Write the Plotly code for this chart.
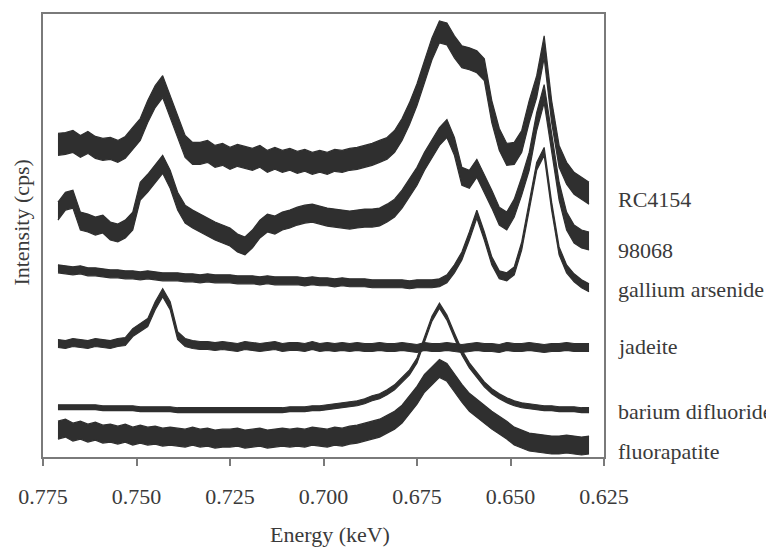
import plotly.graph_objects as go

# Energy grid (keV), shared by all spectra
energy = [0.771, 0.769, 0.767, 0.765, 0.763, 0.761, 0.759, 0.757, 0.755, 0.753,
          0.751, 0.749, 0.747, 0.745, 0.743, 0.741, 0.739, 0.737, 0.735, 0.733,
          0.731, 0.729, 0.727, 0.725, 0.723, 0.721, 0.719, 0.717, 0.715, 0.713,
          0.711, 0.709, 0.707, 0.705, 0.703, 0.701, 0.699, 0.697, 0.695, 0.693,
          0.691, 0.689, 0.687, 0.685, 0.683, 0.681, 0.679, 0.677, 0.675, 0.673,
          0.671, 0.669, 0.667, 0.665, 0.663, 0.661, 0.659, 0.657, 0.655, 0.653,
          0.651, 0.649, 0.647, 0.645, 0.643, 0.641, 0.639, 0.637, 0.635, 0.633,
          0.631, 0.629]

# Offset (stacked) intensities, arbitrary units
rc4154 = [314, 315, 317, 312, 316, 311, 309, 310, 307, 311,
          320, 329, 347, 362, 372, 352, 330, 312, 305, 305,
          307, 302, 304, 300, 303, 301, 299, 302, 297, 300,
          297, 299, 296, 298, 295, 297, 295, 298, 297, 299,
          300, 302, 304, 307, 310, 317, 329, 345, 364, 387,
          410, 427, 425, 412, 402, 400, 397, 389, 347, 319,
          304, 305, 317, 347, 372, 412, 347, 302, 285, 275,
          270, 265]
s98068 = [247, 257, 259, 237, 235, 232, 234, 227, 225, 229,
          237, 267, 275, 285, 294, 279, 257, 244, 239, 235,
          231, 227, 224, 221, 215, 212, 219, 229, 235, 233,
          237, 239, 242, 244, 245, 243, 241, 240, 239, 238,
          239, 240, 240, 241, 245, 250, 259, 270, 282, 297,
          309, 322, 330, 312, 282, 279, 290, 275, 259, 242,
          237, 250, 272, 297, 337, 365, 317, 267, 237, 224,
          219, 217]
gallium_arsenide = [189, 188, 187, 188, 186, 186, 185, 184, 184, 183,
                    183, 182, 183, 182, 181, 181, 181, 180, 180, 179,
                    180, 179, 179, 179, 178, 178, 178, 177, 178, 177,
                    177, 177, 177, 176, 177, 176, 176, 175, 176, 175,
                    175, 175, 174, 174, 174, 174, 174, 173, 174, 174,
                    174, 175, 179, 189, 202, 222, 244, 222, 197, 183,
                    181, 187, 212, 252, 292, 307, 252, 207, 189, 180,
                    174, 170]
jadeite = [114, 113, 115, 114, 113, 115, 114, 113, 115, 116,
           125, 130, 135, 152, 165, 152, 122, 115, 113, 112,
           112, 111, 112, 111, 110, 112, 111, 110, 111, 112,
           110, 111, 111, 110, 112, 110, 111, 110, 111, 110,
           111, 110, 110, 111, 110, 110, 111, 110, 109, 111,
           110, 110, 111, 110, 109, 110, 111, 110, 110, 109,
           111, 110, 110, 111, 110, 109, 110, 110, 111, 110,
           110, 110]
barium_difluoride = [50, 50, 50, 50, 50, 50, 49, 49, 49, 49,
                     49, 48, 48, 48, 48, 48, 47, 47, 47, 47,
                     47, 47, 47, 47, 47, 47, 47, 47, 47, 47,
                     47, 48, 48, 48, 49, 49, 50, 51, 52, 53,
                     54, 56, 59, 61, 65, 70, 77, 85, 97, 117,
                     139, 152, 140, 122, 105, 92, 82, 73, 66, 61,
                     57, 54, 52, 51, 50, 49, 49, 48, 48, 48,
                     47, 47]
fluorapatite = [27, 29, 25, 27, 24, 26, 23, 24, 22, 24,
                21, 23, 21, 22, 20, 21, 20, 19, 21, 19,
                20, 18, 19, 19, 20, 18, 19, 20, 18, 19,
                20, 19, 20, 19, 21, 20, 19, 21, 20, 22,
                23, 25, 27, 29, 33, 37, 43, 52, 62, 74,
                82, 89, 85, 74, 64, 55, 49, 43, 37, 32,
                27, 21, 18, 15, 14, 13, 12, 12, 13, 12,
                11, 12]

series_names = ["RC4154", "98068", "gallium arsenide", "jadeite",
                "barium difluoride", "fluorapatite"]
series_values = [rc4154, s98068, gallium_arsenide, jadeite,
                 barium_difluoride, fluorapatite]
# half-thickness of the noise band
noise_halfwidth = [11, 9, 4, 4, 2.5, 9]
# vertical position of each right-hand label (same units as the data)
label_level = [259, 207, 168, 111, 46, 6]

tick_vals = [0.775, 0.750, 0.725, 0.700, 0.675, 0.650, 0.625]
tick_text = ["0.775", "0.750", "0.725", "0.700", "0.675", "0.650", "0.625"]

INK = "#2f2f2f"
TXT = "#3a3a3a"
FONT = "Liberation Serif"

fig = go.Figure()
for name, vals, w in zip(series_names, series_values, noise_halfwidth):
    upper = [v + w for v in vals]
    lower = [v - w for v in vals]
    fig.add_trace(go.Scatter(x=energy, y=upper, mode="lines",
                             line=dict(color=INK, width=1.2),
                             showlegend=False, hoverinfo="skip"))
    fig.add_trace(go.Scatter(x=energy, y=lower, mode="lines", fill="tonexty",
                             fillcolor=INK, line=dict(color=INK, width=1.2),
                             name=name, showlegend=False))

for name, lvl in zip(series_names, label_level):
    fig.add_annotation(x=1.022, xref="paper", y=lvl, yref="y", text=name,
                       showarrow=False, xanchor="left", yanchor="middle",
                       font=dict(family=FONT, size=22, color=TXT))

fig.add_annotation(x=0.5116, xref="paper", y=-0.176, yref="paper",
                   text="Energy (keV)", showarrow=False,
                   xanchor="center", yanchor="middle",
                   font=dict(family=FONT, size=22, color=TXT))
fig.add_annotation(x=-0.0385, xref="paper", y=0.53, yref="paper",
                   text="Intensity (cps)", showarrow=False, textangle=-90,
                   xanchor="center", yanchor="middle",
                   font=dict(family=FONT, size=22, color=TXT))

# the page body adds an 8 px offset, so the figure is sized to fit inside it
fig.update_layout(
    width=766, height=542,
    margin=dict(l=35, r=170, t=4, b=93),
    paper_bgcolor="white", plot_bgcolor="white",
    showlegend=False,
    xaxis=dict(range=[0.775, 0.625], tickvals=tick_vals, ticktext=tick_text,
               ticks="outside", ticklen=7, tickwidth=2, tickcolor="#7a7a7a",
               showline=True, mirror=True, linecolor="#7a7a7a", linewidth=2,
               showgrid=False, zeroline=False, ticklabelstandoff=12,
               tickfont=dict(family=FONT, size=22, color=TXT)),
    yaxis=dict(range=[0, 445], showticklabels=False, ticks="",
               showline=True, mirror=True, linecolor="#7a7a7a", linewidth=2,
               showgrid=False, zeroline=False),
)

fig.write_html("out.html")
